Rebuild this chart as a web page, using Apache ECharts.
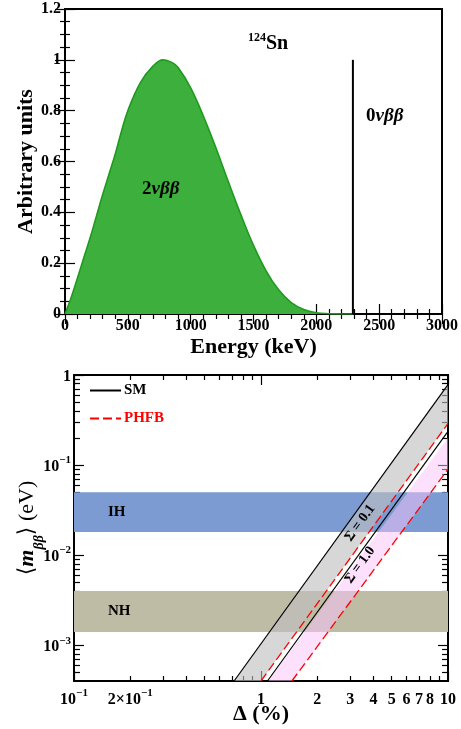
<!DOCTYPE html>
<html>
<head>
<meta charset="utf-8">
<script src="https://cdn.jsdelivr.net/npm/echarts@6/dist/echarts.min.js"></script>
<style>
  html, body { margin: 0; padding: 0; background: #fff; }
  #chart { width: 461px; height: 729px; }
</style>
</head>
<body>
<div id="chart"></div>
<script>
// ---- top panel: 124Sn sum-energy spectrum ----
var energy = [0, 25, 50, 100, 150, 200, 250, 300, 350, 400, 450, 500, 600, 700, 780, 850, 900, 1000, 1100, 1200, 1300, 1400, 1500, 1600, 1700, 1800, 1900, 2000, 2100, 2200, 2291];
var spectrum = [0, 0.032, 0.066, 0.143, 0.222, 0.30, 0.385, 0.47, 0.55, 0.63, 0.72, 0.80, 0.91, 0.975, 1.0, 0.99, 0.97, 0.89, 0.78, 0.655, 0.52, 0.39, 0.27, 0.17, 0.095, 0.045, 0.018, 0.005, 0.0012, 0.0002, 0];
var qValue = 2291;          // 0vbb line position (keV)
var qHeight = 1;

// ---- bottom panel: <m_bb> vs Delta (%) ----
var bandNames = ['IH', 'NH'];
var bandLow = [0.018, 0.0014];
var bandHigh = [0.05, 0.004];

// each line: two points [Delta, m] (lower end sits on the axis minimum)
var smSigma01 = [[0.718, 4e-4], [10, 0.78]];
var phfbSigma01 = [[1.0, 4e-4], [10, 0.29]];
var smSigma10 = [[1.083, 4e-4], [10, 0.236]];
var pinkEdge = [[1.095, 4e-4], [10, 0.20]];
var phfbSigma10 = [[1.463, 4e-4], [10, 0.09]];

var xMajor = [0.1, 1, 10];
var xMinor = [0.2, 0.3, 0.4, 0.5, 0.6, 0.7, 0.8, 0.9, 2, 3, 4, 5, 6, 7, 8, 9];
var xTickLabels = [0.1, 0.2, 1, 2, 3, 4, 5, 6, 7, 8, 10];
var yMajor = [0.001, 0.01, 0.1, 1];
var yMinor = [0.0005, 0.0006, 0.0007, 0.0008, 0.0009,
  0.002, 0.003, 0.004, 0.005, 0.006, 0.007, 0.008, 0.009,
  0.02, 0.03, 0.04, 0.05, 0.06, 0.07, 0.08, 0.09,
  0.2, 0.3, 0.4, 0.5, 0.6, 0.7, 0.8, 0.9];
var yTickLabels = [0.001, 0.01, 0.1, 1];

var FONT = '"Liberation Serif", "DejaVu Serif", serif';
var G2 = { w: 374, h: 306 };   // lower plot size, used to flip tick-only axes onto the far edge

function logLabel(v) {
  var e = Math.floor(Math.log10(v) + 1e-9);
  var mant = Math.round(v / Math.pow(10, e));
  if (e >= 0) return '{b|' + Math.round(v) + '}';
  if (mant === 1) return '{b|10}{s|\u2212' + (-e) + '}';
  return '{b|' + mant + '\u00d710}{s|\u2212' + (-e) + '}';
}
var supRich = {
  b: { fontFamily: FONT, fontWeight: 'bold', fontSize: 16, color: '#000', lineHeight: 20, verticalAlign: 'bottom' },
  s: { fontFamily: FONT, fontWeight: 'bold', fontSize: 11, color: '#000', lineHeight: 11, verticalAlign: 'top' }
};

var chart = echarts.init(document.getElementById('chart'));

var axisLineStyle = { show: true, lineStyle: { color: '#000', width: 2 } };
function linAxis(grid, pos, opts, showLabel, split) {
  return Object.assign({
    gridIndex: grid, type: 'value', position: pos,
    axisLine: axisLineStyle,
    axisTick: { show: true, inside: true, length: 10, lineStyle: { color: '#000', width: 1.2 } },
    minorTick: { show: true, inside: true, splitNumber: split, length: 5, lineStyle: { color: '#000', width: 1.2 } },
    splitLine: { show: false },
    axisLabel: { show: showLabel, color: '#000', fontFamily: FONT, fontWeight: 'bold', fontSize: 16, margin: 4,
      formatter: function (v) { return String(+v.toFixed(2)); } }
  }, opts);
}
function logAxis(grid, pos, min, max, labels, margin) {
  return {
    gridIndex: grid, type: 'log', logBase: 10, min: min, max: max, position: pos,
    axisLine: axisLineStyle, axisTick: { show: false }, minorTick: { show: false },
    splitLine: { show: false },
    axisLabel: { show: true, customValues: labels, margin: margin, formatter: logLabel, rich: supRich }
  };
}
// tick-only log axis placed on the opposite edge, so its outward ticks point into the plot
function logTickAxis(grid, pos, min, max, ticks, len, offset) {
  return {
    gridIndex: grid, type: 'log', logBase: 10, min: min, max: max, position: pos, offset: offset,
    axisLine: { show: false },
    axisTick: { show: true, length: len, customValues: ticks, lineStyle: { color: '#000', width: 1.2 } },
    minorTick: { show: false }, splitLine: { show: false }, axisLabel: { show: false }
  };
}

var titleStyle = { color: '#000', fontFamily: FONT, fontWeight: 'bold', fontSize: 22 };

var option = {
  animation: false,
  backgroundColor: '#fff',
  grid: [
    { left: 65, top: 9, width: 377, height: 305, show: true, borderColor: '#000', borderWidth: 2 },
    { left: 74, top: 375, width: G2.w, height: G2.h, show: true, borderColor: '#000', borderWidth: 2 }
  ],
  xAxis: [
    linAxis(0, 'bottom', { min: 0, max: 3000, interval: 500,
      name: 'Energy (keV)', nameLocation: 'middle', nameGap: 22, nameTextStyle: titleStyle }, true, 5),
    linAxis(0, 'top', { min: 0, max: 3000, interval: 500 }, false, 5),
    Object.assign(logAxis(1, 'bottom', 0.1, 10, xTickLabels, 7), {
      name: '\u0394 (%)', nameLocation: 'middle', nameGap: 22, nameMoveOverlap: false, nameTextStyle: titleStyle
    }),
    logTickAxis(1, 'top', 0.1, 10, xMajor, 10, -G2.h),
    logTickAxis(1, 'top', 0.1, 10, xMinor, 5, -G2.h),
    logTickAxis(1, 'bottom', 0.1, 10, xMajor, 10, -G2.h),
    logTickAxis(1, 'bottom', 0.1, 10, xMinor, 5, -G2.h)
  ],
  yAxis: [
    linAxis(0, 'left', { min: 0, max: 1.2, interval: 0.2,
      name: 'Arbitrary units', nameLocation: 'middle', nameGap: 28, nameMoveOverlap: false, nameTextStyle: titleStyle }, true, 4),
    linAxis(0, 'right', { min: 0, max: 1.2, interval: 0.2 }, false, 4),
    Object.assign(logAxis(1, 'left', 4e-4, 1, yTickLabels, 3), {
      name: '{a|\u27e8}{m|m}{s|\u03b2\u03b2}{a|\u27e9 (eV)}', nameLocation: 'middle', nameGap: 28, nameMoveOverlap: false,
      nameTextStyle: {
        rich: {
          a: { fontFamily: FONT, fontWeight: 'normal', fontSize: 22, color: '#000', lineHeight: 30, verticalAlign: 'top' },
          m: { fontFamily: FONT, fontWeight: 'bold', fontStyle: 'italic', fontSize: 22, color: '#000', lineHeight: 30, verticalAlign: 'top' },
          s: { fontFamily: FONT, fontWeight: 'bold', fontStyle: 'italic', fontSize: 14, color: '#000', lineHeight: 14, verticalAlign: 'bottom' }
        }
      }
    }),
    logTickAxis(1, 'right', 4e-4, 1, yMajor, 10, -G2.w),
    logTickAxis(1, 'right', 4e-4, 1, yMinor, 6, -G2.w),
    logTickAxis(1, 'left', 4e-4, 1, yMajor, 10, -G2.w),
    logTickAxis(1, 'left', 4e-4, 1, yMinor, 6, -G2.w)
  ],
  legend: {
    orient: 'vertical', left: 89, top: 383, padding: 0,
    itemWidth: 31, itemHeight: 14, itemGap: 13,
    itemStyle: { opacity: 0 },
    textStyle: { fontFamily: FONT, fontWeight: 'bold', fontSize: 15, padding: [0, 0, 0, -2] },
    data: [
      { name: 'SM', textStyle: { color: '#000' } },
      { name: 'PHFB', textStyle: { color: '#ff0000' } }
    ]
  },
  series: [
    {
      type: 'line', xAxisIndex: 0, yAxisIndex: 0, name: '2vbb',
      data: energy.map(function (en, i) { return [en, spectrum[i]]; }),
      smooth: 0.4, symbol: 'none',
      lineStyle: { color: '#1f9a1f', width: 1.6 },
      areaStyle: { color: '#3daf3d', opacity: 1 }
    },
    {
      type: 'line', xAxisIndex: 0, yAxisIndex: 0, name: '0vbb',
      data: [[qValue, 0], [qValue, qHeight]], symbol: 'none',
      lineStyle: { color: '#000', width: 2 }
    },
    // horizontal IH / NH bands
    {
      type: 'custom', xAxisIndex: 2, yAxisIndex: 2, clip: true, silent: true,
      data: bandNames.map(function (n, i) { return [1, bandLow[i], i]; }),
      renderItem: function (params, api) {
        var i = api.value(2);
        var p1 = api.coord([0.1, bandHigh[i]]);
        var p2 = api.coord([10, bandLow[i]]);
        return {
          type: 'group', children: [
            { type: 'rect', shape: { x: p1[0], y: p1[1], width: p2[0] - p1[0], height: p2[1] - p1[1] },
              style: { fill: i === 0 ? '#7b9bd2' : '#bfbca6' } },
            { type: 'text', style: { x: p1[0] + 34, y: (p1[1] + p2[1]) / 2, text: bandNames[i], fill: '#000',
              font: 'bold 15px ' + FONT, verticalAlign: 'middle' } }
          ]
        };
      }
    },
    // sigma bands (gray = Sigma 0.1, pink = Sigma 1.0)
    {
      type: 'custom', xAxisIndex: 2, yAxisIndex: 2, clip: true, silent: true,
      data: [[1, 0.01, 0], [1, 0.01, 1]],
      renderItem: function (params, api) {
        var i = api.value(2);
        var a = i === 0 ? smSigma01 : pinkEdge;
        var b = i === 0 ? phfbSigma01 : phfbSigma10;
        var pts = [a[0], a[1], b[1], b[0]].map(function (p) { return api.coord(p); });
        return { type: 'polygon', shape: { points: pts },
          style: i === 0 ? { fill: 'rgba(190,190,190,0.62)' } : { fill: 'rgba(249,193,249,0.5)' } };
      }
    },
    { type: 'line', name: 'SM', xAxisIndex: 2, yAxisIndex: 2, data: smSigma01, symbol: 'none',
      lineStyle: { color: '#000', width: 1.2 }, itemStyle: { color: '#000' } },
    { type: 'line', name: 'SM', xAxisIndex: 2, yAxisIndex: 2, data: smSigma10, symbol: 'none',
      lineStyle: { color: '#000', width: 1.2 }, itemStyle: { color: '#000' } },
    { type: 'line', name: 'PHFB', xAxisIndex: 2, yAxisIndex: 2, data: phfbSigma01, symbol: 'none',
      lineStyle: { color: '#ff0000', width: 1.3, type: [9, 4] }, itemStyle: { color: '#ff0000' } },
    { type: 'line', name: 'PHFB', xAxisIndex: 2, yAxisIndex: 2, data: phfbSigma10, symbol: 'none',
      lineStyle: { color: '#ff0000', width: 1.3, type: [9, 4] }, itemStyle: { color: '#ff0000' } }
  ],
  graphic: [
    { type: 'text', left: 248, top: 32, z: 100, style: {
      text: '{s|124}{b|Sn}', rich: {
        s: { fontFamily: FONT, fontWeight: 'bold', fontSize: 12, lineHeight: 12, verticalAlign: 'top', fill: '#000' },
        b: { fontFamily: FONT, fontWeight: 'bold', fontSize: 20, lineHeight: 22, verticalAlign: 'bottom', fill: '#000' }
      } } },
    { type: 'text', left: 366, top: 107, z: 100, style: {
      text: '{b|0}{i|\u03bd\u03b2\u03b2}', rich: {
        b: { fontFamily: FONT, fontWeight: 'bold', fontSize: 19, fill: '#000' },
        i: { fontFamily: FONT, fontStyle: 'italic', fontWeight: 'bold', fontSize: 19, fill: '#000' }
      } } },
    { type: 'text', left: 142, top: 180, z: 100, style: {
      text: '{b|2}{i|\u03bd\u03b2\u03b2}', rich: {
        b: { fontFamily: FONT, fontWeight: 'bold', fontSize: 19, fill: '#000' },
        i: { fontFamily: FONT, fontStyle: 'italic', fontWeight: 'bold', fontSize: 19, fill: '#000' }
      } } },
    { type: 'text', x: 360, y: 523, z: 100, rotation: 54 * Math.PI / 180, style: {
      text: '\u03a3 = 0.1', font: 'bold 14px ' + FONT, fill: '#000', align: 'center', verticalAlign: 'middle' } },
    { type: 'text', x: 360, y: 565, z: 100, rotation: 54 * Math.PI / 180, style: {
      text: '\u03a3 = 1.0', font: 'bold 14px ' + FONT, fill: '#000', align: 'center', verticalAlign: 'middle' } }
  ]
};

chart.setOption(option);
</script>
</body>
</html>
